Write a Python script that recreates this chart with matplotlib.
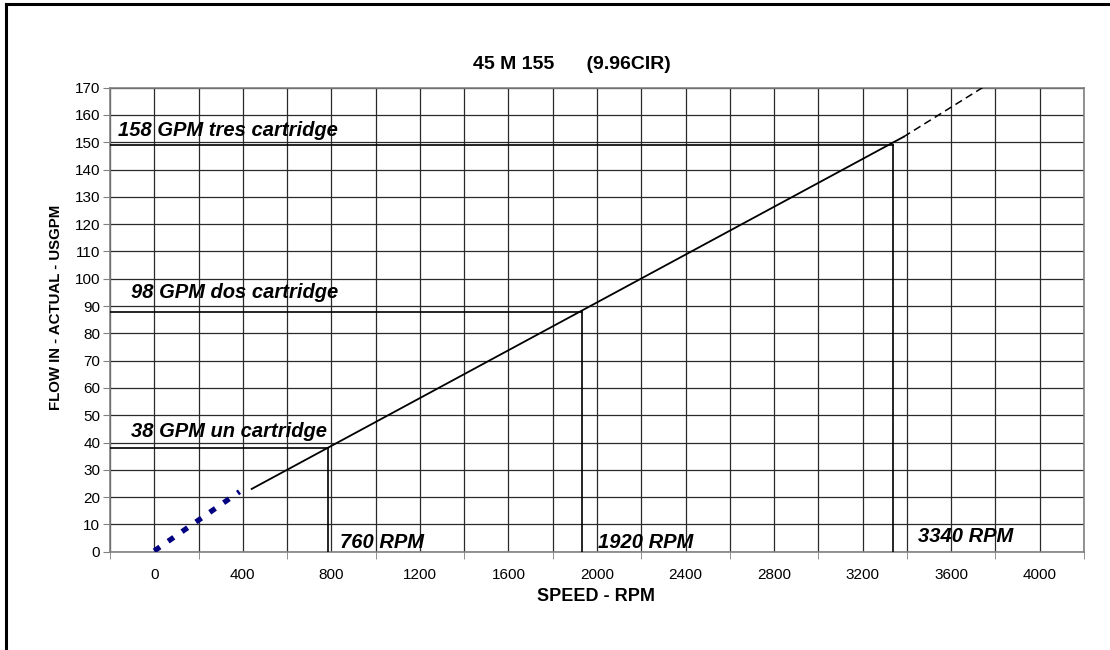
import matplotlib
matplotlib.use("Agg")
import matplotlib.pyplot as plt
from matplotlib.lines import Line2D

plt.rcParams['font.family'] = ['Liberation Sans', 'DejaVu Sans']

# pump curve
speed_main = [440, 3385]
flow_main = [23.0, 152.0]
speed_ext = [3385, 3745]
flow_ext = [152.0, 170.2]
speed_low = [0, 385]
flow_low = [0.3, 22.0]

# operating points (one, two, three cartridges)
op_speed = [785, 1930, 3338]
op_flow = [38, 88, 149]
flow_labels = ["38 GPM un cartridge", "98 GPM dos cartridge", "158 GPM tres cartridge"]
rpm_labels = ["760 RPM", "1920 RPM", "3340 RPM"]
flow_label_pos = [(-105, 44.0), (-104, 94.8), (-163, 154.4)]
rpm_label_pos = [(837, 3.2), (2005, 3.2), (3448, 5.4)]

x_labels = list(range(0, 4001, 400))
x_ticks = list(range(-200, 4201, 400))
y_ticks = list(range(0, 171, 10))

fig = plt.figure(figsize=(11.1, 6.5), dpi=100)
ax = fig.add_axes([0.0991, 0.1512, 0.8775, 0.7139])

ax.set_xlim(-200, 4200)
ax.set_ylim(0, 170)

# grid every 200 rpm / 10 gpm
for x in range(-200, 4201, 200):
    ax.axvline(x, color='#2a2a2a', lw=0.9, zorder=1)
for y in y_ticks:
    ax.axhline(y, color='#2a2a2a', lw=0.9, zorder=1)

ax.plot(speed_main, flow_main, color='black', lw=1.3, zorder=3)
ax.plot(speed_ext, flow_ext, color='black', lw=1.1, ls=(0, (5, 3)), zorder=3)
ax.plot(speed_low, flow_low, color='#000080', lw=3.8, ls=(0, (1.3, 1.9)),
        solid_capstyle='butt', zorder=3)

for s, f in zip(op_speed, op_flow):
    ax.plot([-200, s], [f, f], color='black', lw=1.2, zorder=4)
    ax.plot([s, s], [f, 0], color='black', lw=1.2, zorder=4)

for txt, (x, y) in zip(flow_labels, flow_label_pos):
    ax.text(x, y, txt, fontsize=14.5, fontweight='bold', fontstyle='italic',
            ha='left', va='center', zorder=5)
for txt, (x, y) in zip(rpm_labels, rpm_label_pos):
    ax.text(x, y, txt, fontsize=14.5, fontweight='bold', fontstyle='italic',
            ha='left', va='center', zorder=5)

# labels sit between the tick marks, like the original
ax.set_xticks(x_labels)
ax.set_xticklabels([str(v) for v in x_labels], fontsize=11)
ax.tick_params(axis='x', length=0, pad=12)
ax.set_xticks(x_ticks, minor=True)
ax.tick_params(axis='x', which='minor', length=5, direction='out', color='#808080')
ax.set_yticks(y_ticks)
ax.set_yticklabels([str(v) for v in y_ticks], fontsize=11)
ax.tick_params(axis='y', length=5, direction='out', color='#808080', pad=2)

for sp in ax.spines.values():
    sp.set_color('#808080')
    sp.set_linewidth(1.2)

fig.text(0.515, 0.9015, "45 M 155      (9.96CIR)", fontsize=14, fontweight='bold',
         ha='center', va='center')
fig.text(0.537, 0.082, "SPEED - RPM", fontsize=13, fontweight='bold',
         ha='center', va='center')
fig.text(0.0505, 0.527, "FLOW IN - ACTUAL - USGPM", fontsize=10.8, fontweight='bold',
         ha='center', va='center', rotation=90)

# outer frame (left and top edges)
fig.add_artist(Line2D([0.0054, 0.0054], [0.0, 0.9938], color='black', lw=2.2))
fig.add_artist(Line2D([0.0054, 1.0], [0.9938, 0.9938], color='black', lw=2.2))

fig.savefig("out.png", dpi=100)
